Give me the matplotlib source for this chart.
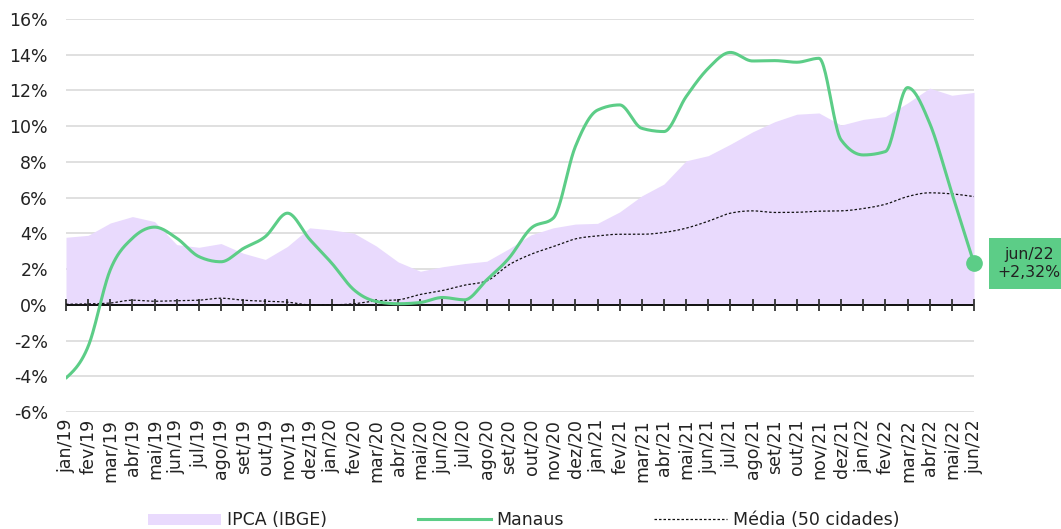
import numpy as np
import matplotlib
matplotlib.use('Agg')
import matplotlib.pyplot as plt
from matplotlib.patches import Patch
from matplotlib.lines import Line2D
from matplotlib.ticker import FuncFormatter

plt.rcParams['font.family'] = ['DejaVu Sans']

# 12 meses acumulados (%)
meses = ['jan/19', 'fev/19', 'mar/19', 'abr/19', 'mai/19', 'jun/19', 'jul/19', 'ago/19',
         'set/19', 'out/19', 'nov/19', 'dez/19', 'jan/20', 'fev/20', 'mar/20', 'abr/20',
         'mai/20', 'jun/20', 'jul/20', 'ago/20', 'set/20', 'out/20', 'nov/20', 'dez/20',
         'jan/21', 'fev/21', 'mar/21', 'abr/21', 'mai/21', 'jun/21', 'jul/21', 'ago/21',
         'set/21', 'out/21', 'nov/21', 'dez/21', 'jan/22', 'fev/22', 'mar/22', 'abr/22',
         'mai/22', 'jun/22']

ipca = [3.78, 3.89, 4.58, 4.94, 4.66, 3.37, 3.22, 3.43, 2.89, 2.54, 3.27, 4.31,
        4.19, 4.01, 3.30, 2.40, 1.88, 2.13, 2.31, 2.44, 3.14, 3.92, 4.31, 4.52,
        4.56, 5.20, 6.10, 6.76, 8.06, 8.35, 8.99, 9.68, 10.25, 10.67, 10.74, 10.06,
        10.38, 10.54, 11.30, 12.13, 11.73, 11.89]

manaus = [-4.10, -2.33, 1.96, 3.73, 4.35, 3.73, 2.70, 2.41, 3.15, 3.82, 5.13, 3.67,
          2.33, 0.84, 0.19, 0.06, 0.13, 0.41, 0.28, 1.40, 2.61, 4.29, 4.85, 8.86,
          10.90, 11.19, 9.88, 9.70, 11.65, 13.24, 14.13, 13.65, 13.67, 13.58, 13.80, 9.23,
          8.39, 8.58, 12.16, 10.16, 6.25, 2.32]

media = [0.03, 0.05, 0.10, 0.26, 0.20, 0.23, 0.26, 0.37, 0.26, 0.20, 0.15, 0.00,
         0.00, 0.06, 0.22, 0.28, 0.58, 0.80, 1.10, 1.34, 2.24, 2.83, 3.26, 3.69,
         3.86, 3.95, 3.95, 4.05, 4.29, 4.68, 5.13, 5.26, 5.17, 5.18, 5.24, 5.26,
         5.39, 5.63, 6.06, 6.27, 6.21, 6.06]

COR_IPCA = '#e9dafd'
COR_MANAUS = '#5ccd87'
COR_GRID = '#e0e0e0'
COR_TEXTO = '#222222'


def suaviza(y, n=24):
    """Curva cúbica monótona (Fritsch-Carlson) sobre pontos igualmente espaçados."""
    y = np.asarray(y, dtype=float)
    x = np.arange(len(y), dtype=float)
    s = np.diff(y)
    m = np.zeros_like(y)
    for i in range(1, len(y) - 1):
        s0, s1 = s[i - 1], s[i]
        p = (s0 + s1) / 2
        m[i] = (np.sign(s0) + np.sign(s1)) * min(abs(s0), abs(s1), 0.5 * abs(p))
    m[0] = (3 * s[0] - m[1]) / 2
    m[-1] = (3 * s[-1] - m[-2]) / 2
    xs, ys = [], []
    for i in range(len(y) - 1):
        t = np.linspace(0, 1, n, endpoint=False)
        h00 = 2 * t**3 - 3 * t**2 + 1
        h10 = t**3 - 2 * t**2 + t
        h01 = -2 * t**3 + 3 * t**2
        h11 = t**3 - t**2
        xs.append(x[i] + t)
        ys.append(h00 * y[i] + h10 * m[i] + h01 * y[i + 1] + h11 * m[i + 1])
    xs.append([x[-1]])
    ys.append([y[-1]])
    return np.concatenate(xs), np.concatenate(ys)


fig = plt.figure(figsize=(10.61, 5.29), dpi=100)
ax = fig.add_axes([66 / 1061, 1 - 412 / 529, 908 / 1061, 393 / 529])

x = np.arange(len(meses))

# área do IPCA
ax.fill_between(x, ipca, 0, color=COR_IPCA, linewidth=0, zorder=1)

# grade horizontal
for v in range(-6, 17, 2):
    ax.axhline(v, color=COR_GRID, linewidth=1.4, zorder=0.5)

# eixo do zero com marcas mensais
ax.axhline(0, color='#111111', linewidth=1.4, zorder=3)
ax.plot(x, np.zeros(len(x)), linestyle='none', marker='|', markersize=9,
        markeredgewidth=1.3, color='#333333', zorder=3, clip_on=False)

# média das 50 cidades
xm, ym = suaviza(media)
ax.plot(xm, ym, color='#111111', linewidth=0.9, linestyle=(0, (2, 1.6)), zorder=4)

# Manaus
xs, ys = suaviza(manaus)
ax.plot(xs, ys, color=COR_MANAUS, linewidth=2.2, zorder=5, solid_capstyle='round')
ax.plot(x[-1], manaus[-1], 'o', color=COR_MANAUS, markersize=11, zorder=6, clip_on=False)

ax.annotate(f'{meses[-1]}\n+{manaus[-1]:.2f}%'.replace('.', ','),
            xy=(x[-1], manaus[-1]), xytext=(17, 0), textcoords='offset points',
            ha='left', va='center', multialignment='center', fontsize=11.3,
            color=COR_TEXTO, annotation_clip=False, linespacing=1.2,
            bbox=dict(boxstyle='square,pad=0.58', facecolor=COR_MANAUS, edgecolor='none'))

ax.set_xlim(0, len(meses) - 1)
ax.set_ylim(-6, 16)
ax.set_yticks(range(-6, 17, 2))
ax.yaxis.set_major_formatter(FuncFormatter(lambda v, _: f'{v:.0f}%'))
ax.set_xticks(x)
ax.set_xticklabels(meses, rotation=90, va='top', ha='center')
ax.tick_params(axis='x', length=0, pad=5, labelsize=12.5, colors=COR_TEXTO)
ax.tick_params(axis='y', length=0, pad=13, labelsize=12.5, colors=COR_TEXTO)
for sp in ax.spines.values():
    sp.set_visible(False)

handles = [
    Patch(facecolor=COR_IPCA, edgecolor='none', label='IPCA (IBGE)'),
    Line2D([], [], color=COR_MANAUS, linewidth=2.2, label='Manaus'),
    Line2D([], [], color='#111111', linewidth=0.9, linestyle=(0, (2, 1.6)),
           label='Média (50 cidades)'),
]
fig.legend(handles=handles, loc='lower center', bbox_to_anchor=(0.494, -0.03), ncol=3,
           frameon=False, fontsize=12.5, handlelength=4.2, handleheight=0.6,
           columnspacing=5.2, handletextpad=0.35, labelcolor=COR_TEXTO)

fig.savefig('out.png', dpi=100, facecolor='white')
